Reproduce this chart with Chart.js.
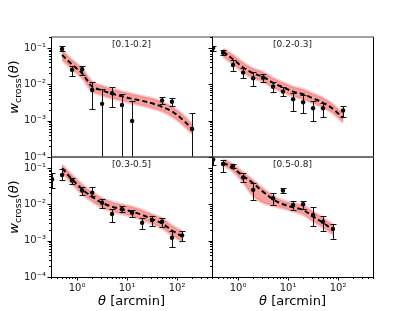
<!DOCTYPE html>
<html>
<head>
<meta charset="utf-8">
<script src="https://cdn.jsdelivr.net/npm/chart.js@4.4.1/dist/chart.umd.min.js"></script>
<style>
  html, body { margin: 0; padding: 0; background: #fff; }
  #wrap { position: relative; width: 415px; height: 311px; }
  #wrap canvas { position: absolute; left: 0; top: 0; }
</style>
</head>
<body>
<div id="wrap">
  <canvas id="p1" width="415" height="311"></canvas>
  <canvas id="p2" width="415" height="311"></canvas>
  <canvas id="p3" width="415" height="311"></canvas>
  <canvas id="p4" width="415" height="311"></canvas>
</div>
<script>
// tick labels
const xTickValues = [1, 10, 100];
const xTickLabels = ['10⁰', '10¹', '10²'];
const yTickValues = [1e-4, 1e-3, 1e-2, 1e-1];
const yTickLabels = ['10⁻⁴', '10⁻³', '10⁻²', '10⁻¹'];

// redshift bins (panel titles)
const binLabels = ['[0.1-0.2]', '[0.2-0.3]', '[0.3-0.5]', '[0.5-0.8]'];

// model curve angles
const modelTheta = [0.5, 0.79, 1.26, 2.0, 3.16, 5.0, 7.9, 12.6, 20, 31.6, 50, 79, 126, 200];

// [0.1-0.2]
const theta1 = [0.5, 0.79, 1.26, 2.0, 3.16, 5.0, 7.9, 12.6, 50, 79, 200];
const w1 = [0.094, 0.025, 0.026, 0.0070, 0.0029, 0.0057, 0.0027, 0.00098, 0.0036, 0.0033, 0.00059];
const lo1 = [0.080, 0.017, 0.018, 0.0021, -0.0014, 0.0024, -0.0001, -0.0015, 0.0028, 0.0025, -0.0004];
const hi1 = [0.110, 0.032, 0.031, 0.0117, 0.0072, 0.0085, 0.0055, 0.0035, 0.0045, 0.0042, 0.0016];
const model1 = [0.064, 0.035, 0.020, 0.0087, 0.0068, 0.0055, 0.0047, 0.0040, 0.0035, 0.0030, 0.0024, 0.0018, 0.0011, 0.00059];
const bandHi1 = [0.085, 0.047, 0.027, 0.0117, 0.0091, 0.0074, 0.0063, 0.0054, 0.0047, 0.0041, 0.0032, 0.0024, 0.0015, 0.0008];
const bandLo1 = [0.047, 0.026, 0.0148, 0.0064, 0.0050, 0.0041, 0.0035, 0.0030, 0.0026, 0.0022, 0.0018, 0.0013, 0.0008, 0.00044];

// [0.2-0.3]
const theta2 = [0.316, 0.5, 0.79, 1.26, 2.0, 3.16, 5.0, 7.9, 12.6, 20, 31.6, 50, 126];
const w2 = [0.10, 0.074, 0.034, 0.021, 0.0146, 0.0152, 0.0086, 0.0063, 0.0039, 0.0032, 0.0022, 0.0022, 0.0019];
const lo2 = [0.085, 0.064, 0.023, 0.015, 0.0088, 0.0118, 0.0063, 0.0048, 0.0018, 0.0016, 0.00096, 0.0013, 0.0013];
const hi2 = [0.115, 0.086, 0.047, 0.028, 0.022, 0.019, 0.0114, 0.0085, 0.0059, 0.0051, 0.0034, 0.0031, 0.0025];
const model2 = [0.079, 0.049, 0.029, 0.020, 0.016, 0.011, 0.0083, 0.0063, 0.0053, 0.0041, 0.0031, 0.0021, 0.0012];
const bandHi2 = [0.095, 0.064, 0.039, 0.027, 0.0216, 0.0149, 0.0112, 0.0085, 0.0072, 0.0055, 0.0042, 0.0028, 0.0016];
const bandLo2 = [0.058, 0.036, 0.0215, 0.0148, 0.0119, 0.0081, 0.0061, 0.0047, 0.0039, 0.0030, 0.0023, 0.0016, 0.0009];

// [0.3-0.5]
const theta3 = [0.316, 0.5, 0.79, 1.26, 2.0, 3.16, 5.0, 7.9, 12.6, 20, 31.6, 50, 79, 126];
const w3 = [0.049, 0.064, 0.045, 0.024, 0.021, 0.011, 0.0054, 0.0073, 0.0059, 0.0031, 0.0037, 0.0033, 0.0012, 0.0014];
const lo3 = [0.028, 0.046, 0.036, 0.018, 0.0165, 0.0081, 0.0033, 0.0060, 0.0046, 0.0021, 0.0025, 0.0023, 0.00065, 0.0010];
const hi3 = [0.074, 0.093, 0.052, 0.029, 0.029, 0.0136, 0.0073, 0.0089, 0.0071, 0.0042, 0.0047, 0.0043, 0.0018, 0.0018];
const model3 = [0.098, 0.049, 0.026, 0.016, 0.011, 0.0086, 0.0073, 0.0063, 0.0051, 0.0039, 0.0030, 0.0019, 0.0013];
const bandHi3 = [0.12, 0.064, 0.035, 0.0216, 0.0149, 0.0116, 0.0099, 0.0085, 0.0069, 0.0053, 0.0041, 0.0026, 0.0018];
const bandLo3 = [0.076, 0.037, 0.0193, 0.0119, 0.0081, 0.0064, 0.0054, 0.0047, 0.0038, 0.0029, 0.0022, 0.0014, 0.00096];

// [0.5-0.8]
const theta4 = [0.316, 0.5, 0.79, 1.26, 2.0, 5.0, 7.9, 12.6, 20, 31.6, 50, 79];
const w4 = [0.17, 0.128, 0.113, 0.055, 0.025, 0.0146, 0.024, 0.0096, 0.010, 0.0051, 0.0033, 0.0021];
const lo4 = [0.12, 0.079, 0.10, 0.040, 0.013, 0.0095, 0.021, 0.0069, 0.0073, 0.0025, 0.0018, 0.0011];
const hi4 = [0.21, 0.17, 0.13, 0.074, 0.039, 0.021, 0.028, 0.0123, 0.0123, 0.0083, 0.0048, 0.0029];
const model4 = [0.14, 0.098, 0.060, 0.038, 0.022, 0.0137, 0.010, 0.0083, 0.0070, 0.0046, 0.0031, 0.0020];
const bandHi4 = [0.17, 0.125, 0.075, 0.046, 0.027, 0.017, 0.0125, 0.0105, 0.0092, 0.0062, 0.0042, 0.0027];
const bandLo4 = [0.12, 0.080, 0.040, 0.017, 0.011, 0.0091, 0.0078, 0.0064, 0.0052, 0.0034, 0.0023, 0.0015];

const X_MIN = 0.3, X_MAX = 500;
const Y_MIN = 1e-4, Y_MAX = 0.2;

Chart.defaults.font.family = "'DejaVu Sans', sans-serif";
Chart.defaults.color = '#222';

const pts = (xs, ys) => xs.map((x, i) => ({ x, y: ys[i] }));

function logTicks(min, max) {
  const out = [];
  for (let e = Math.floor(Math.log10(min)); e <= Math.ceil(Math.log10(max)); e++) {
    for (let m = 1; m < 10; m++) {
      const v = m * Math.pow(10, e);
      if (v >= min * 0.999 && v <= max * 1.001) out.push({ v, major: m === 1 });
    }
  }
  return out;
}

// error bars on the scatter dataset
const errorBars = {
  id: 'errorBars',
  afterDatasetsDraw(chart) {
    const { ctx, chartArea: a, scales: { y } } = chart;
    ctx.save();
    ctx.beginPath();
    ctx.rect(a.left, a.top, a.right - a.left, a.bottom - a.top);
    ctx.clip();
    ctx.strokeStyle = '#111';
    ctx.lineWidth = 1;
    chart.data.datasets.forEach((ds, i) => {
      if (!ds.errLo) return;
      chart.getDatasetMeta(i).data.forEach((pt, j) => {
        const x = Math.round(pt.x) + 0.5;
        const yHi = Math.round(y.getPixelForValue(ds.errHi[j])) + 0.5;
        const hasLo = ds.errLo[j] > 0;
        const yLo = hasLo ? Math.round(y.getPixelForValue(ds.errLo[j])) + 0.5 : a.bottom + 5;
        ctx.beginPath();
        ctx.moveTo(x, yHi); ctx.lineTo(x, yLo);
        ctx.moveTo(x - 3, yHi); ctx.lineTo(x + 3, yHi);
        if (hasLo) { ctx.moveTo(x - 3, yLo); ctx.lineTo(x + 3, yLo); }
        ctx.stroke();
      });
    });
    ctx.restore();
  }
};

// frame, ticks, titles, axis labels
const panelDecor = {
  id: 'panelDecor',
  afterDraw(chart, args, o) {
    const { ctx, chartArea: a, scales: { x, y } } = chart;
    ctx.save();
    // y ticks (left spine, outward)
    ctx.strokeStyle = '#000';
    ctx.lineWidth = 1;
    ctx.beginPath();
    logTicks(Y_MIN, Y_MAX).forEach(t => {
      const py = Math.round(y.getPixelForValue(t.v)) + 0.5;
      ctx.moveTo(a.left, py);
      ctx.lineTo(a.left - (t.major ? 3.5 : 2), py);
    });
    if (o.bottomRow) {
      logTicks(X_MIN, X_MAX).forEach(t => {
        const px = Math.round(x.getPixelForValue(t.v)) + 0.5;
        ctx.moveTo(px, a.bottom);
        ctx.lineTo(px, a.bottom + (t.major ? 3.5 : 2));
      });
    }
    ctx.stroke();

    // spines
    ctx.beginPath();
    ctx.moveTo(Math.round(a.left) + 0.5, a.top);
    ctx.lineTo(Math.round(a.left) + 0.5, a.bottom);
    ctx.moveTo(Math.round(a.right) + 0.5, a.top);
    ctx.lineTo(Math.round(a.right) + 0.5, a.bottom);
    ctx.stroke();
    ctx.strokeStyle = '#444';
    ctx.beginPath();
    ctx.moveTo(a.left, a.top); ctx.lineTo(a.right + 1, a.top);
    if (!o.bottomRow) { ctx.moveTo(a.left, a.bottom); ctx.lineTo(a.right + 1, a.bottom); }
    ctx.stroke();
    if (o.bottomRow) {
      ctx.strokeStyle = '#000';
      ctx.beginPath();
      ctx.moveTo(a.left, a.bottom + 0.5); ctx.lineTo(a.right + 1, a.bottom + 0.5);
      ctx.stroke();
    }

    // panel title
    ctx.fillStyle = '#222';
    ctx.font = "9px 'DejaVu Sans'";
    ctx.textAlign = 'center';
    ctx.textBaseline = 'middle';
    ctx.fillText(o.title, (a.left + a.right) / 2, a.top + 8);

    // x label
    if (o.bottomRow) {
      const parts = [["italic 13px 'DejaVu Sans'", 'θ'], ["13px 'DejaVu Sans'", ' [arcmin]']];
      let total = 0;
      parts.forEach(p => { ctx.font = p[0]; total += ctx.measureText(p[1]).width; });
      let cx = (a.left + a.right) / 2 - total / 2;
      ctx.textAlign = 'left';
      ctx.textBaseline = 'alphabetic';
      ctx.fillStyle = '#000';
      parts.forEach(p => { ctx.font = p[0]; ctx.fillText(p[1], cx, 305); cx += ctx.measureText(p[1]).width; });
    }

    // y label
    if (o.leftCol) {
      const parts = [
        ["italic 13px 'DejaVu Sans'", 'w', 0],
        ["9.5px 'DejaVu Sans'", 'cross', 2.5],
        ["13px 'DejaVu Sans'", '(', 0],
        ["italic 13px 'DejaVu Sans'", 'θ', 0],
        ["13px 'DejaVu Sans'", ')', 0]
      ];
      let total = 0;
      parts.forEach(p => { ctx.font = p[0]; total += ctx.measureText(p[1]).width; });
      ctx.translate(18, (a.top + a.bottom) / 2 - 10);
      ctx.rotate(-Math.PI / 2);
      ctx.textAlign = 'left';
      ctx.textBaseline = 'alphabetic';
      ctx.fillStyle = '#000';
      let cx = -total / 2;
      parts.forEach(p => { ctx.font = p[0]; ctx.fillText(p[1], cx, p[2]); cx += ctx.measureText(p[1]).width; });
    }
    ctx.restore();
  }
};

function makePanel(id, cfg) {
  const W = 40, H = 30;
  return new Chart(document.getElementById(id), {
    type: 'scatter',
    data: {
      datasets: [
        {
          data: pts(cfg.theta, cfg.w),
          errLo: cfg.lo,
          errHi: cfg.hi,
          backgroundColor: '#000',
          borderWidth: 0,
          pointRadius: 2.2
        },
        {
          data: pts(modelTheta.slice(0, cfg.model.length), cfg.model),
          showLine: true,
          borderColor: '#000',
          borderWidth: 2,
          borderDash: [5, 3],
          pointRadius: 0,
          tension: 0.35
        },
        {
          data: pts(modelTheta.slice(0, cfg.bandHi.length), cfg.bandHi),
          showLine: true,
          borderColor: 'rgba(240,110,110,0.35)',
          borderWidth: 3,
          backgroundColor: 'rgba(242,115,115,0.68)',
          fill: '+1',
          pointRadius: 0,
          tension: 0.35
        },
        {
          data: pts(modelTheta.slice(0, cfg.bandLo.length), cfg.bandLo),
          showLine: true,
          borderColor: 'rgba(240,110,110,0.35)',
          borderWidth: 3,
          fill: false,
          pointRadius: 0,
          tension: 0.35
        }
      ]
    },
    options: {
      responsive: false,
      animation: false,
      events: [],
      layout: {
        padding: { left: cfg.L - W, top: cfg.T, right: 415 - cfg.R, bottom: 311 - cfg.B - H }
      },
      plugins: {
        legend: { display: false },
        tooltip: { enabled: false },
        panelDecor: { title: cfg.title, leftCol: cfg.leftCol, bottomRow: cfg.bottomRow }
      },
      scales: {
        x: {
          type: 'logarithmic',
          min: X_MIN,
          max: X_MAX,
          grid: { display: false, drawTicks: false },
          border: { display: false },
          afterBuildTicks: s => { s.ticks = xTickValues.map(v => ({ value: v })); },
          afterFit: s => { s.height = H; },
          ticks: {
            display: cfg.bottomRow,
            autoSkip: false,
            maxRotation: 0,
            padding: 5,
            font: { size: 10 },
            callback: (v, i) => xTickLabels[i]
          }
        },
        y: {
          type: 'logarithmic',
          min: Y_MIN,
          max: Y_MAX,
          grid: { display: false, drawTicks: false },
          border: { display: false },
          afterBuildTicks: s => { s.ticks = yTickValues.map(v => ({ value: v })); },
          afterFit: s => { s.width = W; },
          ticks: {
            display: cfg.leftCol,
            autoSkip: false,
            padding: 5,
            font: { size: 10 },
            callback: (v, i) => yTickLabels[i]
          }
        }
      }
    },
    plugins: [errorBars, panelDecor]
  });
}

makePanel('p1', { theta: theta1, w: w1, lo: lo1, hi: hi1, model: model1, bandHi: bandHi1, bandLo: bandLo1,
  title: binLabels[0], L: 51, T: 37, R: 212, B: 157, leftCol: true, bottomRow: false });
makePanel('p2', { theta: theta2, w: w2, lo: lo2, hi: hi2, model: model2, bandHi: bandHi2, bandLo: bandLo2,
  title: binLabels[1], L: 212, T: 37, R: 373, B: 157, leftCol: false, bottomRow: false });
makePanel('p3', { theta: theta3, w: w3, lo: lo3, hi: hi3, model: model3, bandHi: bandHi3, bandLo: bandLo3,
  title: binLabels[2], L: 51, T: 157, R: 212, B: 277, leftCol: true, bottomRow: true });
makePanel('p4', { theta: theta4, w: w4, lo: lo4, hi: hi4, model: model4, bandHi: bandHi4, bandLo: bandLo4,
  title: binLabels[3], L: 212, T: 157, R: 373, B: 277, leftCol: false, bottomRow: true });
</script>
</body>
</html>
